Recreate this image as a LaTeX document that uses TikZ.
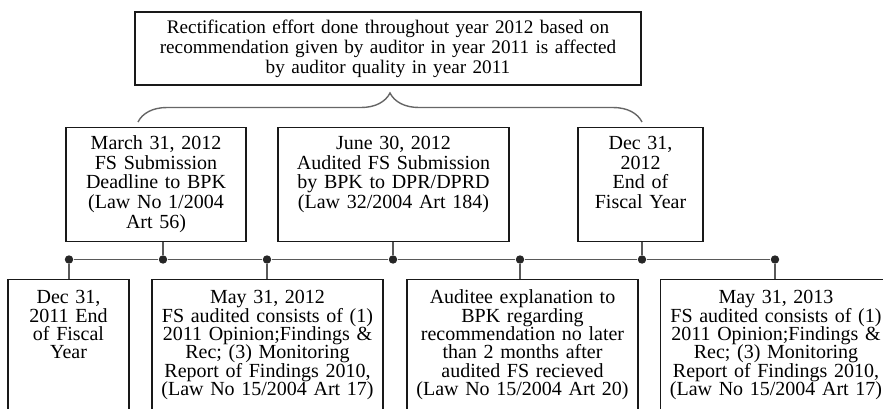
\documentclass[tikz,border=0pt]{standalone}
\usepackage{fontspec}
\setmainfont{Liberation Serif}
\usetikzlibrary{decorations.pathreplacing}
\lineskiplimit=-5pt

\begin{document}
\begin{tikzpicture}[
		x=0.5pt,y=-0.5pt,
		bullet/.style={
			fill=black!85,
			circle,
			minimum width=4.2pt,
			inner sep=0pt
		},
		stem/.style={
			draw=black!65,
			line width=0.6pt
		},
		box/.style={
			draw=black!90,
			line width=0.7pt,
			align=center,
			inner xsep=1pt
		},
		upper/.style={
			box,
			anchor=north,
			text width=#1,
			inner ysep=4pt,
			text height=7pt,
			text depth=42pt,
			font=\fontsize{10}{9.8}\selectfont
		},
		lower/.style={
			box,
			anchor=north,
			text width=#1,
			inner ysep=5pt,
			text height=7pt,
			text depth=70pt,
			font=\fontsize{10}{9.2}\selectfont
		},
		bracket/.style={
			decorate,
			decoration={brace,amplitude=14.5pt},
			draw=black!60,
			line width=0.7pt
		}
		]
		\useasboundingbox (0,0) rectangle (883,408);
		\clip (0,0) rectangle (883,408);
		% heading
		\node[box,text width=251pt,minimum height=36.5pt,inner ysep=3pt,
			font=\fontsize{9.6}{10}\selectfont] (effort) at (388,48.5)
			{Rectification effort done throughout year 2012 based on\\
			recommendation given by auditor in year 2011 is affected\\
			by auditor quality in year 2011};
		\coordinate (bl) at (138,122);
		\coordinate (br) at (642,122);
		\draw[bracket] (bl) -- (br);
		% events above the line
		\node[upper=88pt] (march) at (156,127)
			{March 31, 2012\\FS Submission\\Deadline to BPK\\(Law No 1/2004\\Art 56)};
		\node[upper=113.5pt] (june) at (393.5,127)
			{June 30, 2012\\Audited FS Submission\\by BPK to DPR/DPRD\\(Law 32/2004 Art 184)};
		\node[upper=60.5pt] (dec12) at (640.5,127)
			{Dec 31,\\2012\\End of\\Fiscal Year};
		% time line
		\node[bullet] (d1) at (69,259.5) {};
		\node[bullet] (d2) at (163,259.5) {};
		\node[bullet] (d3) at (267,259.5) {};
		\node[bullet] (d4) at (393,259.5) {};
		\node[bullet] (d5) at (520,259.5) {};
		\node[bullet] (d6) at (642,259.5) {};
		\node[bullet] (d7) at (775,259.5) {};
		\draw[stem] (d1) -- (d2) -- (d3) -- (d4) -- (d5) -- (d6) -- (d7);
		% events below the line
		\node[lower=58.5pt] (dec11) at (68.5,279)
			{Dec 31,\\2011 End\\of Fiscal\\Year};
		\node[lower=113.5pt] (may12) at (267.5,279)
			{May 31, 2012\\FS audited consists of (1)\\2011 Opinion;Findings \&\\Rec; (3) Monitoring\\Report of Findings 2010,\\(Law No 15/2004 Art 17)};
		\node[lower=113.5pt] (reply) at (522.5,279)
			{Auditee explanation to\\BPK regarding\\recommendation no later\\than 2 months after\\audited FS recieved\\(Law No 15/2004 Art 20)};
		\node[lower=113.5pt] (may13) at (776,279)
			{May 31, 2013\\FS audited consists of (1)\\2011 Opinion;Findings \&\\Rec; (3) Monitoring\\Report of Findings 2010,\\(Law No 15/2004 Art 17)};
		\draw[stem] (d2) -- (d2 |- march.south);
		\draw[stem] (d4) -- (d4 |- june.south);
		\draw[stem] (d6) -- (d6 |- dec12.south);
		\draw[stem] (d1) -- (d1 |- dec11.north);
		\draw[stem] (d3) -- (d3 |- may12.north);
		\draw[stem] (d5) -- (d5 |- reply.north);
		\draw[stem] (d7) -- (d7 |- may13.north);
\end{tikzpicture}
\end{document}
